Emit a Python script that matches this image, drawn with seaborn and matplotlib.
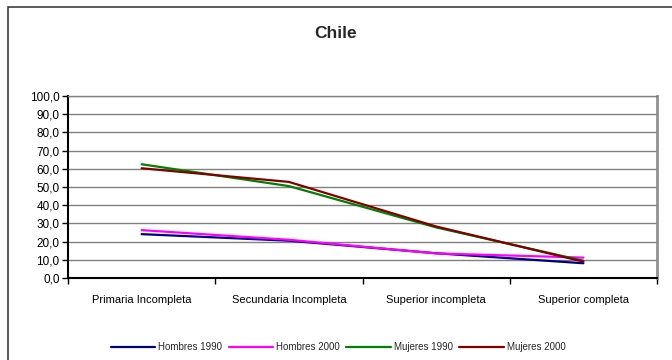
import matplotlib
matplotlib.use("Agg")
import matplotlib.pyplot as plt
import matplotlib.patches as mpatches
from matplotlib.ticker import FixedLocator, FuncFormatter
import seaborn as sns
import pandas as pd

categorias = ["Primaria Incompleta", "Secundaria Incompleta", "Superior incompleta", "Superior completa"]
series = ["Hombres 1990", "Hombres 2000", "Mujeres 1990", "Mujeres 2000"]
hombres_1990 = [24.1, 20.5, 13.6, 8.1]
hombres_2000 = [26.3, 21.0, 13.5, 11.2]
mujeres_1990 = [62.5, 50.5, 27.8, 9.5]
mujeres_2000 = [60.3, 52.8, 28.3, 9.0]
colores = ["#000080", "#FF00FF", "#008000", "#800000"]
y_ticks = [0, 10, 20, 30, 40, 50, 60, 70, 80, 90, 100]

valores = [hombres_1990, hombres_2000, mujeres_1990, mujeres_2000]
filas = []
for nombre, vals in zip(series, valores):
    for i, v in enumerate(vals):
        filas.append({"x": i, "valor": v, "serie": nombre})
df = pd.DataFrame(filas)

sns.set_theme(style="white")
plt.rcParams["font.family"] = ["Liberation Sans", "DejaVu Sans"]

fig = plt.figure(figsize=(6.72, 3.6), dpi=100)
ax = fig.add_axes([68 / 672, 1 - 278 / 360, (657 - 68) / 672, (278 - 96) / 360])

sns.lineplot(data=df, x="x", y="valor", hue="serie", hue_order=series,
             palette=colores, linewidth=1.6, ax=ax, legend=False, zorder=3)

ax.set_xlim(-0.5, 3.5)
ax.set_ylim(0, 100)
ax.set_yticks(y_ticks)
ax.yaxis.set_major_formatter(FuncFormatter(lambda v, p: f"{v:.1f}".replace(".", ",")))
ax.set_xticks(range(len(categorias)))
ax.set_xticklabels(categorias)
ax.xaxis.set_minor_locator(FixedLocator([-0.5, 0.5, 1.5, 2.5, 3.5]))
ax.tick_params(axis="x", which="major", length=0, pad=12, labelsize=8, colors="black")
ax.tick_params(axis="x", which="minor", length=4, width=1, color="black", bottom=True)
ax.tick_params(axis="y", length=4, width=1, color="black", left=True, labelsize=8.5, pad=2, colors="black")
ax.set_xlabel("")
ax.set_ylabel("")

ax.grid(axis="y", color="#808080", linewidth=1)
ax.set_axisbelow(True)
for lado in ["left", "bottom"]:
    ax.spines[lado].set_color("black")
    ax.spines[lado].set_linewidth(1.5)
ax.spines["top"].set_color("#808080")
ax.spines["top"].set_linewidth(1)
ax.spines["right"].set_color("#909090")
ax.spines["right"].set_linewidth(2)

fig.text(0.5, 1 - 34 / 360, "Chile", ha="center", va="center", fontsize=12.5, fontweight="bold")

handles = [plt.Line2D([], [], color=c, linewidth=1.6) for c in colores]
fig.legend(handles, series, loc="center", bbox_to_anchor=(0.503, 1 - 347 / 360), ncol=4,
           frameon=False, fontsize=7, handlelength=4.6, handletextpad=0.25, columnspacing=0.7)

borde = mpatches.Rectangle((8 / 672, -0.05), 1.0, 1 - 7 / 360 + 0.05, transform=fig.transFigure,
                           fill=False, edgecolor="#404040", linewidth=1.2, clip_on=False)
fig.patches.append(borde)

fig.savefig("out.png", dpi=100)
